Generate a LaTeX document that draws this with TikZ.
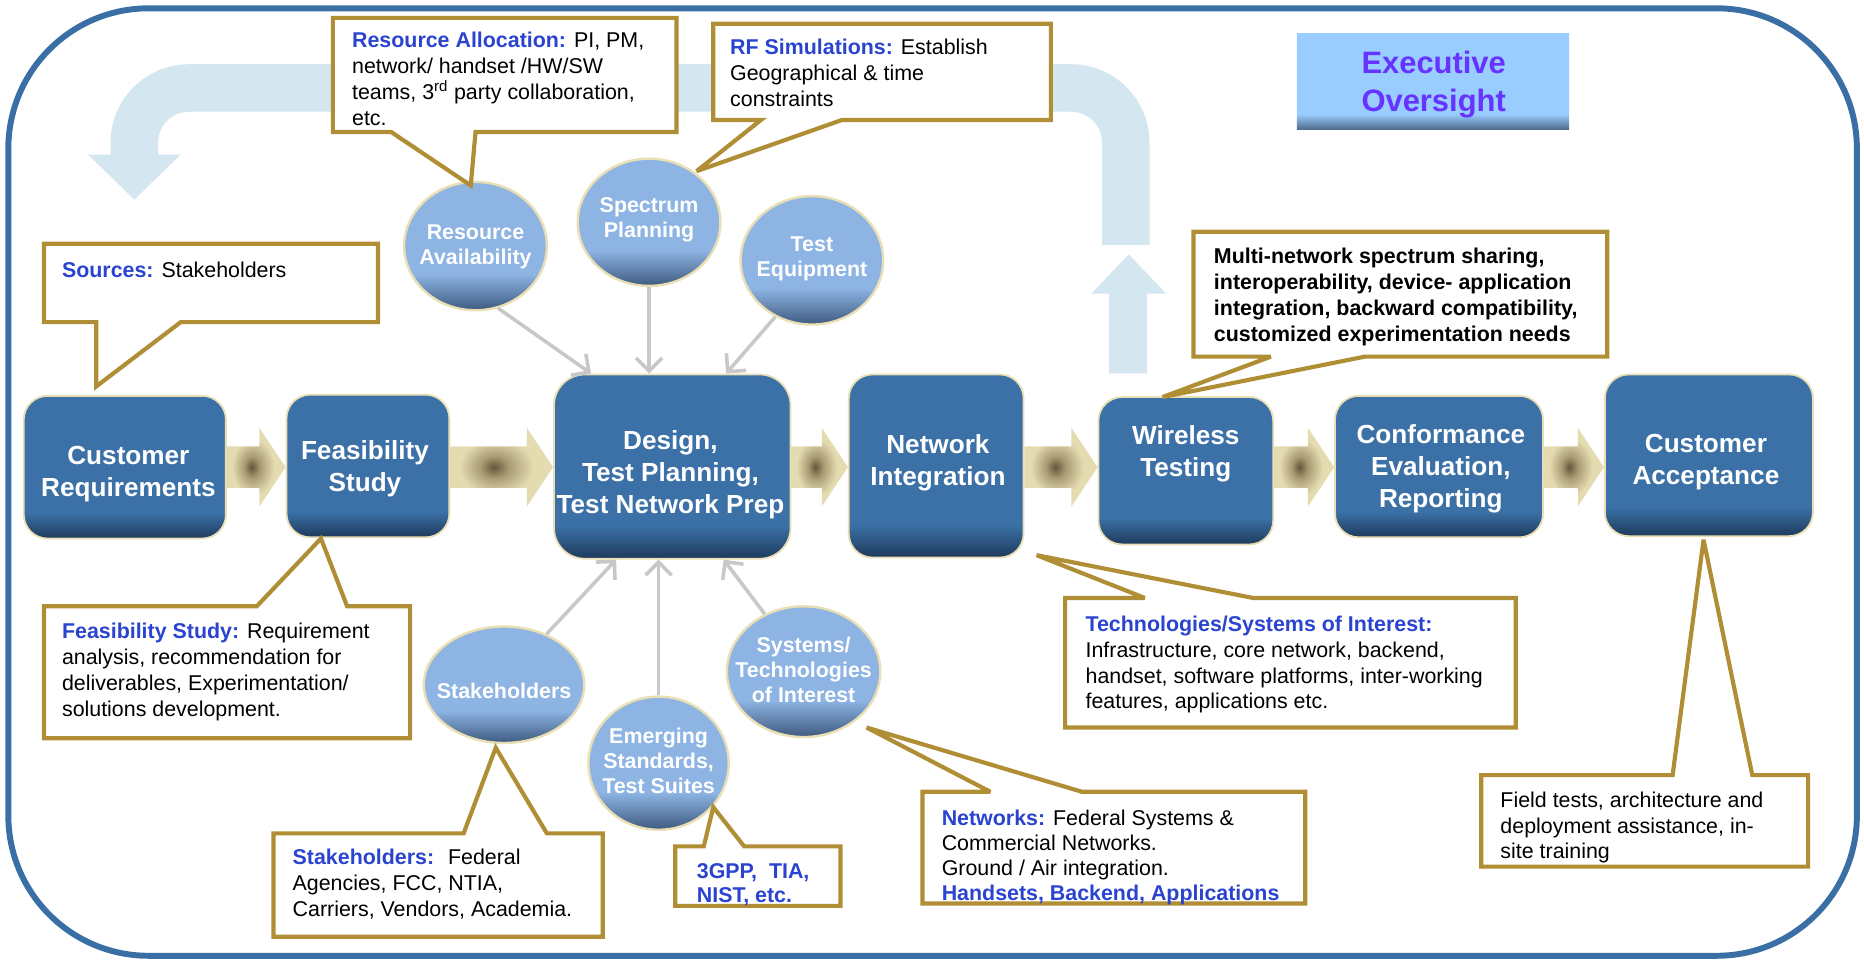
\documentclass[tikz,border=0pt]{standalone}
\usepackage{fontspec}
\setmainfont{Liberation Sans}
\usetikzlibrary{shapes.geometric,arrows.meta,calc}

% palette
\definecolor{cFrame}{RGB}{58,111,165}
\definecolor{cFeed}{RGB}{212,231,240}
\definecolor{cBoxMain}{RGB}{59,113,166}
\definecolor{cBoxDark}{RGB}{30,58,92}
\definecolor{cRim}{RGB}{234,223,180}
\definecolor{cBubLight}{RGB}{141,180,227}
\definecolor{cBubDark}{RGB}{62,90,128}
\definecolor{cExLight}{RGB}{153,204,255}
\definecolor{cExDark}{RGB}{78,106,138}
\definecolor{cExText}{RGB}{102,51,255}
\definecolor{cGold}{RGB}{176,142,53}
\definecolor{cLabel}{RGB}{42,68,208}
\definecolor{cGrey}{RGB}{200,200,200}
\definecolor{cChevDark}{RGB}{100,86,58}
\definecolor{cChevMid}{RGB}{170,156,116}
\definecolor{cChevLight}{RGB}{228,219,176}

% vertical shadings: darker band along the bottom edge
\pgfdeclareverticalshading{boxsh}{100bp}{color(0bp)=(cBoxDark); color(25bp)=(cBoxDark); color(34bp)=(cBoxMain); color(100bp)=(cBoxMain)}
\pgfdeclareverticalshading{bubsh}{100bp}{color(0bp)=(cBubDark); color(25bp)=(cBubDark); color(39bp)=(cBubLight); color(100bp)=(cBubLight)}
\pgfdeclareverticalshading{exsh}{100bp}{color(0bp)=(cExDark); color(25bp)=(cExDark); color(33bp)=(cExLight); color(100bp)=(cExLight)}
% glow in the middle of the block arrows
\pgfdeclareradialshading{chevsh}{\pgfpoint{-4bp}{0bp}}{color(0bp)=(cChevDark); color(7bp)=(cChevMid); color(18bp)=(cChevLight); color(50bp)=(cChevLight)}

\newcommand\lbltxt[1]{\textbf{\color{cLabel}#1}}

% block arrow between two process boxes, centred on the row line
\newcommand\chev[2]{%
  \shade[shading=chevsh]
    let \p1=(#1.east), \p2=(#2.west), \p3=(row) in
    (\x1,\y3+17.5pt) -- (\x2-22pt,\y3+17.5pt) -- (\x2-22pt,\y3+33pt) -- (\x2,\y3)
    -- (\x2-22pt,\y3-33pt) -- (\x2-22pt,\y3-17.5pt) -- (\x1,\y3-17.5pt) -- cycle;}

\tikzset{
  pbox/.style={rectangle, rounded corners=20pt, draw=cRim, line width=1.5pt, shading=boxsh, inner sep=0pt},
  ptext/.style={text=white, font=\bfseries\fontsize{22}{27}\selectfont, align=center, inner sep=0pt},
  bubble/.style={ellipse, draw=cRim, line width=2pt, shading=bubsh, inner sep=0pt},
  btext/.style={text=white, font=\bfseries\fontsize{18}{21}\selectfont, align=center, inner sep=0pt},
  gline/.style={draw=cGrey, line width=3pt, -{Straight Barb[length=11pt,width=22pt]}},
  callout/.style={draw=cGold, line width=3.5pt, fill=white, miter limit=4},
  ctext/.style={anchor=north west, inner sep=0pt, align=left, font=\fontsize{18}{21.7}\selectfont},
}

\begin{document}
\begin{tikzpicture}[x=1pt,y=-1pt]
\useasboundingbox (0,0) rectangle (1568,808);
\fill[white] (0,0) rectangle (1568,808);

% outer frame
\draw[cFrame, line width=5pt, rounded corners=118pt] (7,7) rectangle (1562,804);

% feedback loop back to the customer
\draw[cFeed, line width=40pt, rounded corners=46pt] (947,206) -- (947,74) -- (113,74) -- (113,131);
\fill[cFeed] (74,130) -- (152,130) -- (113,168) -- cycle;
\fill[cFeed] (933,314) -- (933,247) -- (918,247) -- (949.5,214) -- (981,247) -- (965,247) -- (965,314) -- cycle;

% executive oversight
\node[shading=exsh, rectangle, inner sep=0pt, minimum width=229pt, minimum height=81pt] (exec) at (1205.5,68.5) {};
\node[text=cExText, font=\bfseries\fontsize{26}{32}\selectfont, align=center, inner sep=0pt] (exect) at (1206,71) {Executive\\Oversight};

% process row
\coordinate (row) at (0,393);
\node[pbox, minimum width=170pt, minimum height=120pt] (cr) at (105,393) {};
\node[pbox, minimum width=137pt, minimum height=120pt] (fs) at (309.5,392) {};
\node[pbox, rounded corners=26pt, minimum width=199pt, minimum height=155pt] (design) at (565.5,392.5) {};
\node[pbox, minimum width=147pt, minimum height=154pt] (ni) at (787.5,392) {};
\node[pbox, minimum width=147pt, minimum height=124pt] (wt) at (997.5,396) {};
\node[pbox, minimum width=175pt, minimum height=119pt] (ce) at (1210.5,392.5) {};
\node[pbox, minimum width=175pt, minimum height=136pt] (ca) at (1437.5,383) {};

\node[ptext] (crt) at (108,398.5) {Customer\\Requirements};
\node[ptext] (fst) at (307,394.5) {Feasibility\\Study};
\node[ptext] (designt) at (564,399.5) {Design,\\Test Planning,\\Test Network Prep};
\node[ptext] (nit) at (789,389.5) {Network\\Integration};
\node[ptext] (wtt) at (997.5,381.5) {Wireless\\Testing};
\node[ptext] (cet) at (1212,394.5) {Conformance\\Evaluation,\\Reporting};
\node[ptext] (cat) at (1435,388.5) {Customer\\Acceptance};

\chev{cr}{fs}
\chev{fs}{design}
\chev{design}{ni}
\chev{ni}{wt}
\chev{wt}{ce}
\chev{ce}{ca}

% inputs to design
\node[bubble, minimum width=120pt, minimum height=108pt] (ra) at (400,207) {};
\node[bubble, minimum width=120pt, minimum height=107pt] (sp) at (546,187) {};
\node[bubble, minimum width=120pt, minimum height=108pt] (te) at (683,219) {};
\node[bubble, minimum width=135pt, minimum height=98pt] (sh) at (424,576) {};
\node[bubble, minimum width=118pt, minimum height=112pt] (es) at (554,642) {};
\node[bubble, minimum width=129pt, minimum height=110pt] (sy) at (676,565) {};

\node[btext] (rat) at (400,208) {Resource\\Availability};
\node[btext] (spt) at (546,184.5) {Spectrum\\Planning};
\node[btext] (tet) at (683,218) {Test\\Equipment};
\node[btext] (sht) at (424,581) {Stakeholders};
\node[btext] (est) at (554,640) {Emerging\\Standards,\\Test Suites};
\node[btext] (syt) at (676,563.5) {Systems/\\Technologies\\of Interest};

\draw[gline] (ra.-70) -- ([xshift=32pt]design.north west);
\draw[gline] (sp.south) -- (sp.south |- design.north);
\draw[gline] (te.-123) -- ([xshift=-55pt]design.north east);
\draw[gline] (sh.50) -- ([xshift=53pt]design.south west);
\draw[gline] (es.north) -- (es.north |- design.south);
\draw[gline] (sy.124) -- ([xshift=-57pt]design.south east);

% callouts
\draw[callout] (280,15) -- (569,15) -- (569,111) -- (400,111) -- (396,156) -- (329,111) -- (280,111) -- cycle;
\draw[callout] (600,20) -- (884,20) -- (884,101) -- (708,101) -- (586,144) -- (640,101) -- (600,101) -- cycle;
\draw[callout] (37,205) -- (318,205) -- (318,271) -- (152,271) -- (81,325) -- (81,271) -- (37,271) -- cycle;
\draw[callout] (37,510) -- (216,510) -- (270,453) -- (292,510) -- (345,510) -- (345,621) -- (37,621) -- cycle;
\draw[callout] (230,701) -- (390,701) -- (417,629) -- (460,701) -- (507,701) -- (507,788) -- (230,788) -- cycle;
\draw[callout] (568,712) -- (592,712) -- (600,679) -- (626,712) -- (707,712) -- (707,762) -- (568,762) -- cycle;
\draw[callout] (776,666) -- (833,666) -- (729,612) -- (910,666) -- (1098,666) -- (1098,760) -- (776,760) -- cycle;
\draw[callout] (896,503) -- (963,503) -- (872,467) -- (1054,503) -- (1275,503) -- (1275,612) -- (896,612) -- cycle;
\draw[callout] (1004,195) -- (1352,195) -- (1352,300) -- (1148,300) -- (978,334) -- (1069,300) -- (1004,300) -- cycle;
\draw[callout] (1246,652) -- (1407,652) -- (1433,454) -- (1474,652) -- (1521,652) -- (1521,729) -- (1246,729) -- cycle;

\node[ctext] (rac) at (296,27) {\lbltxt{Resource Allocation:} PI, PM,\\network/ handset /HW/SW\\teams, 3\textsuperscript{rd} party collaboration,\\etc.};
\node[ctext] (rfc) at (614,33) {\lbltxt{RF Simulations:} Establish\\Geographical \& time\\constraints};
\node[ctext] (src) at (52,220) {\lbltxt{Sources:} Stakeholders};
\node[ctext] (fsc) at (52,524) {\lbltxt{Feasibility Study:} Requirement\\analysis, recommendation for\\deliverables, Experimentation/\\solutions development.};
\node[ctext] (shc) at (246,714) {\lbltxt{Stakeholders:}~ Federal\\Agencies, FCC, NTIA,\\Carriers, Vendors, Academia.};
\node[ctext, font=\fontsize{18}{20}\selectfont] (stc) at (586,726) {\lbltxt{3GPP,~ TIA,}\\\lbltxt{NIST, etc.}};
\node[ctext, font=\fontsize{18}{21}\selectfont] (nwc) at (792,681) {\lbltxt{Networks:} Federal Systems \&\\Commercial Networks.\\Ground / Air integration.\\\lbltxt{Handsets, Backend, Applications}};
\node[ctext] (tsc) at (913,518) {\lbltxt{Technologies/Systems of Interest:}\\Infrastructure, core network, backend,\\handset, software platforms, inter-working\\features, applications etc.};
\node[ctext, font=\bfseries\fontsize{18}{22}\selectfont] (mnc) at (1021,208) {Multi-network spectrum sharing,\\interoperability, device- application\\integration, backward compatibility,\\customized experimentation needs};
\node[ctext, font=\fontsize{18}{21.5}\selectfont] (ftc) at (1262,666) {Field tests, architecture and\\deployment assistance, in-\\site training};
\end{tikzpicture}
\end{document}
